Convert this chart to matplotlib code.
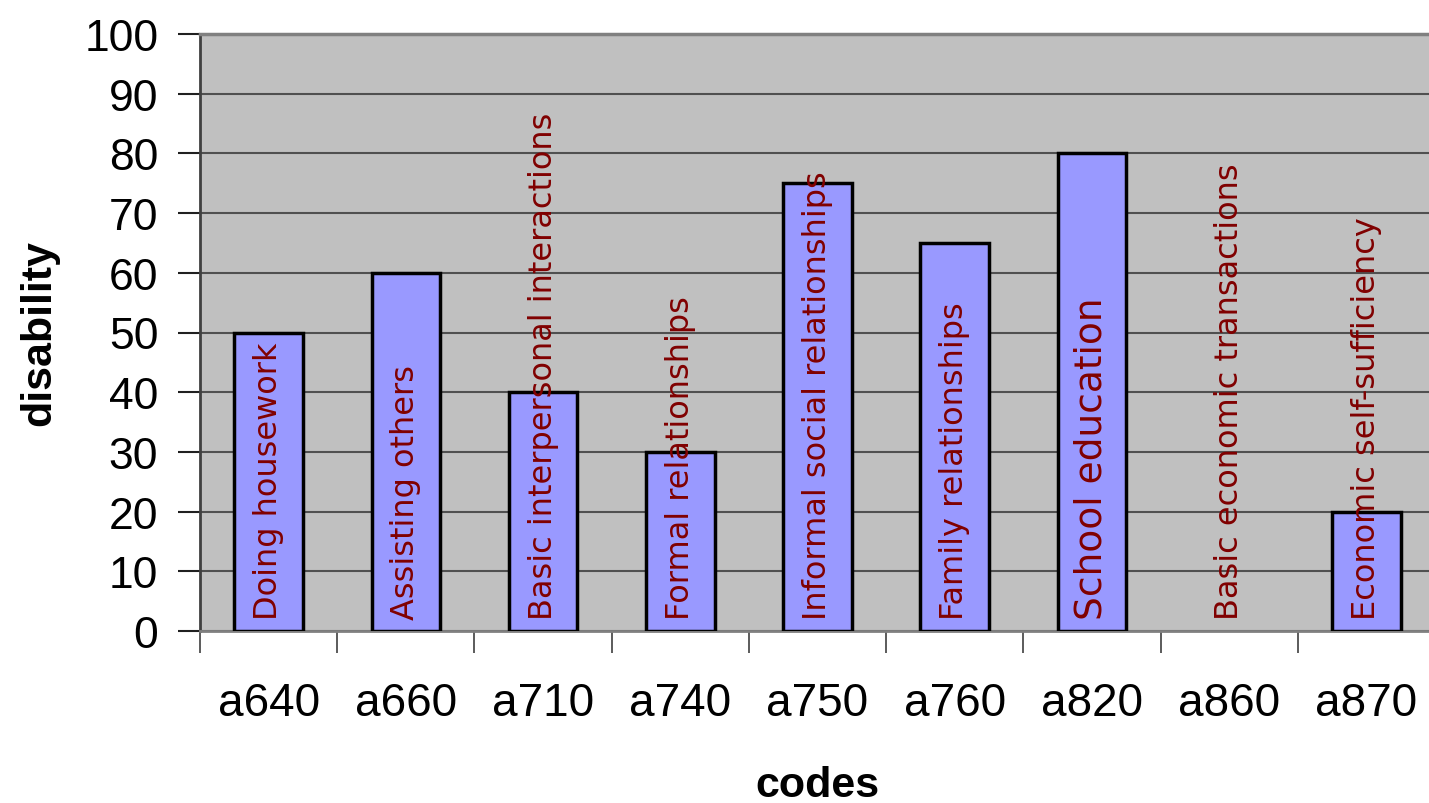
import numpy as np
from matplotlib import pyplot as plt

codes = ["a640", "a660", "a710", "a740", "a750", "a760", "a820", "a860", "a870"]
disability = [50, 60, 40, 30, 75, 65, 80, 0, 20]
names = ["Doing housework", "Assisting others", "Basic interpersonal interactions",
         "Formal relationships", "Informal social relationships", "Family relationships",
         "School education", "Basic economic transactions", "Economic self-sufficiency"]

fig = plt.figure(figsize=(14.29, 8.04), dpi=100)
ax = fig.add_axes([200 / 1429, 1 - 632 / 804, 1235 / 1429, 597 / 804])
ax.set_facecolor("#C0C0C0")

x = np.arange(len(codes))
bars = ax.bar(x, disability, width=0.5, color="#9999FF", edgecolor="black", linewidth=2.5, zorder=3)
for b, v in zip(bars, disability):
    if v == 0:
        b.set_visible(False)

# category names written inside the bars
for i, name in enumerate(names):
    size = 27 if name == "School education" else 23
    ax.text(i, 2, name, rotation=90, ha="center", va="bottom", color="#800000",
            fontsize=size, family="DejaVu Sans", zorder=4)

ax.set_xlim(-0.5, len(codes) - 0.5)
ax.set_ylim(0, 100)
ax.set_yticks(np.arange(0, 101, 10))
ax.yaxis.grid(True, color="#505050", linewidth=1.5, zorder=0)
ax.set_axisbelow(True)

ax.set_xticks(x)
ax.set_xticklabels(codes, fontsize=33, family="Liberation Sans")
ax.set_xticks(np.arange(0, len(codes)) - 0.5, minor=True)
ax.tick_params(axis="x", which="major", length=0, pad=36)
ax.tick_params(axis="x", which="minor", length=16, width=1.2, color="#404040", direction="out")
ax.tick_params(axis="y", length=16, width=1.5, color="#202020", labelsize=32, pad=14)
for lab in ax.get_yticklabels():
    lab.set_family("Liberation Sans")

ax.spines["top"].set_color("#808080")
ax.spines["top"].set_linewidth(2.5)
ax.spines["bottom"].set_color("#808080")
ax.spines["bottom"].set_linewidth(2)
ax.spines["left"].set_color("#404040")
ax.spines["left"].set_linewidth(2)
ax.spines["right"].set_visible(False)

ax.set_xlabel("codes", fontsize=31, fontweight="bold", family="Liberation Sans", labelpad=29)
ax.set_ylabel("disability", fontsize=31, fontweight="bold", family="Liberation Sans", labelpad=18)

fig.savefig("out.png", dpi=100)
